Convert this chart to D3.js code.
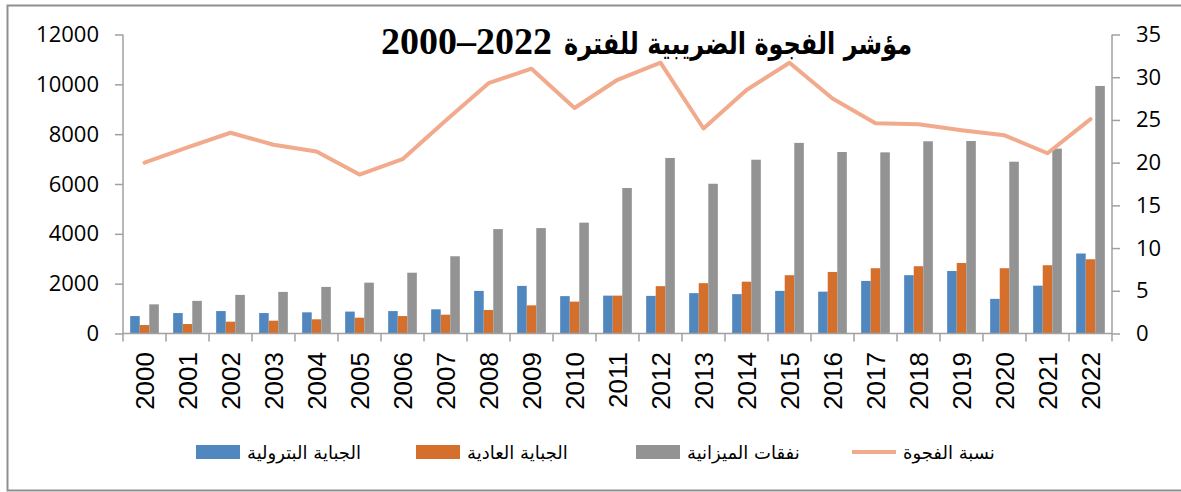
<!DOCTYPE html>
<html><head><meta charset="utf-8">
<script src="https://cdn.jsdelivr.net/npm/d3@7"></script>
<style>
html,body{margin:0;padding:0;background:#fff;}
svg{display:block;}
</style></head>
<body>
<svg id="chart" width="1181" height="492"></svg>
<script>
const years = ["2000","2001","2002","2003","2004","2005","2006","2007","2008","2009","2010","2011","2012","2013","2014","2015","2016","2017","2018","2019","2020","2021","2022"];
const petroleum = [700,820,900,820,850,880,900,970,1710,1910,1500,1520,1510,1620,1580,1710,1680,2110,2340,2510,1390,1920,3210];
const regular = [340,380,475,515,570,635,700,755,945,1130,1280,1520,1900,2020,2080,2340,2470,2620,2700,2830,2620,2740,2980];
const budget = [1170,1310,1550,1670,1870,2040,2440,3100,4190,4230,4450,5840,7045,6010,6975,7650,7285,7270,7715,7725,6895,7420,9935];
const gapRatio = [20.0,21.8,23.5,22.1,21.3,18.6,20.4,24.9,29.3,31.0,26.4,29.7,31.7,24.0,28.5,31.7,27.5,24.6,24.5,23.8,23.2,21.1,25.1];
const leftTicks = [0,2000,4000,6000,8000,10000,12000];
const rightTicks = [0,5,10,15,20,25,30,35];
const seriesNames = ["الجباية البترولية","الجباية العادية","نفقات الميزانية","نسبة الفجوة"];
const titleWords = "مؤشر الفجوة الضريبية للفترة";
const titlePeriod = "2000–2022";

const colors = ["#4F87BE","#D4702C","#939393","#F2AA8C"];
const svg = d3.select("#chart");

// outer frame
svg.append("path").attr("d","M1181,5.5 H7.5 V490.5 H1181").attr("fill","none").attr("stroke","#8f8f8f").attr("stroke-width",2);

const X0 = 123, X1 = 1112, YT = 34.5, YB = 333.5;
const x = d3.scaleBand().domain(years).range([X0, X1]).padding(0);
const yL = d3.scaleLinear().domain([0,12000]).range([YB, YT]);
const yR = d3.scaleLinear().domain([0,35]).range([YB, YT]);
const bw = x.bandwidth()/4.5;
const inner = d3.scaleBand().domain([0,1,2]).range([0, 3*bw]);
const off = (x.bandwidth() - 3*bw)/2;

const seriesData = [petroleum, regular, budget];
seriesData.forEach((vals, si) => {
  svg.append("g").selectAll("rect").data(vals).join("rect")
    .attr("x", (d,i) => x(years[i]) + off + inner(si))
    .attr("width", inner.bandwidth())
    .attr("y", d => yL(d))
    .attr("height", d => YB - yL(d))
    .attr("fill", colors[si]);
});

// axes
const axisColor = "#a0a0a0";
const gL = svg.append("g").attr("transform",`translate(${X0},0)`)
  .call(d3.axisLeft(yL).tickValues(leftTicks).tickSize(8).tickPadding(16).tickFormat(d3.format("d")));
const gR = svg.append("g").attr("transform",`translate(${X1},0)`)
  .call(d3.axisRight(yR).tickValues(rightTicks).tickSize(8).tickPadding(16).tickFormat(d3.format("d")));
[gL,gR].forEach(g => {
  g.select(".domain").attr("stroke",axisColor).attr("stroke-width",1.5).attr("d",`M0,${YT}V${YB}`);
  g.selectAll(".tick line").attr("stroke",axisColor).attr("stroke-width",1.5);
  g.selectAll(".tick text").attr("fill","#000").attr("font-family","'Open Sans', sans-serif").attr("font-size","22px");
});

// bottom axis with boundary ticks
const gB = svg.append("g");
gB.append("line").attr("x1",X0).attr("x2",X1).attr("y1",YB).attr("y2",YB).attr("stroke",axisColor).attr("stroke-width",1.5);
gB.selectAll("line.tk").data(d3.range(years.length+1)).join("line").attr("class","tk")
  .attr("x1",i=> X0 + i*x.step()).attr("x2",i=> X0 + i*x.step())
  .attr("y1",YB).attr("y2",YB+8).attr("stroke",axisColor).attr("stroke-width",1.5);
gB.selectAll("text").data(years).join("text")
  .attr("transform", d => `translate(${x(d)+x.bandwidth()/2},352) rotate(-90)`)
  .attr("text-anchor","end").attr("dy","0.36em")
  .attr("font-family","'Liberation Sans', Arial, sans-serif").attr("font-size","26px").attr("fill","#000")
  .text(d => d);

// line
const line = d3.line().x((d,i)=> x(years[i]) + x.bandwidth()/2).y(d => yR(d));
svg.append("path").datum(gapRatio).attr("d", line).attr("fill","none")
  .attr("stroke", colors[3]).attr("stroke-width",4).attr("stroke-linejoin","round").attr("stroke-linecap","round");

// title (numbers on the left, Arabic words on the right, as in the picture)
const tStart = 381, tEnd = 912, tBase = 54;
const tNum = svg.append("text").attr("x",tStart).attr("y",tBase).attr("text-anchor","start")
  .attr("font-family","'Liberation Serif', serif").attr("font-weight","bold").attr("font-size","38px")
  .attr("fill","#000").text(titlePeriod);
const numW = tNum.node().getComputedTextLength();
svg.append("text").attr("x",tEnd).attr("y",tBase).attr("text-anchor","end")
  .attr("font-family","'DejaVu Sans', sans-serif").attr("font-weight","bold").attr("font-size","30px")
  .attr("textLength", tEnd - (tStart + numW + 12)).attr("lengthAdjust","spacingAndGlyphs")
  .attr("fill","#000").text(titleWords);

// legend
const legX = [196, 416, 636, 852];
const lg = svg.append("g");
seriesNames.forEach((name, i) => {
  if (i < 3) {
    lg.append("rect").attr("x",legX[i]).attr("y",445).attr("width",44).attr("height",14).attr("fill",colors[i]);
  } else {
    lg.append("line").attr("x1",legX[i]).attr("x2",legX[i]+44).attr("y1",452).attr("y2",452)
      .attr("stroke",colors[3]).attr("stroke-width",4);
  }
  lg.append("text").attr("x",legX[i]+51).attr("y",459).attr("text-anchor","start")
    .attr("font-family","'DejaVu Sans', sans-serif").attr("font-size","18px").attr("fill","#000").text(name);
});
</script>
</body></html>
